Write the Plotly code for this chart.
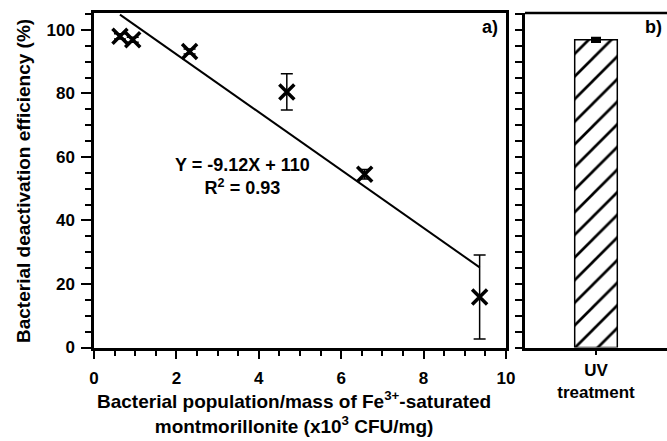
import plotly.graph_objects as go

# ---- data ----
pop_x = [0.63, 0.94, 2.32, 4.68, 6.57, 9.36]          # x10^3 CFU/mg
efficiency = [98.0, 96.9, 93.2, 80.5, 54.6, 15.9]      # %
eff_err = [0.8, 0.8, 0.8, 5.7, 1.5, 13.2]
fit_slope = -9.12
fit_intercept = 110.6
uv_category = ["UV<br>treatment"]
uv_value = [96.9]
uv_err = [0.5]
x_ticks = [0, 2, 4, 6, 8, 10]
y_ticks = [0, 20, 40, 60, 80, 100]
x_title = "Bacterial population/mass of Fe<sup>3+</sup>-saturated<br>montmorillonite (x10<sup>3</sup> CFU/mg)"
y_title = "Bacterial deactivation efficiency (%)"

FAM = "Liberation Sans, Arial, sans-serif"
TICKF = dict(family=FAM, size=17, color="black", weight="bold")
TITLEF = dict(family=FAM, size=19, color="black", weight="bold")
ANNF = dict(family=FAM, size=18, color="black", weight="bold")

fig = go.Figure()

# fit line
fx = [min(pop_x), max(pop_x)]
fy = [fit_intercept + fit_slope * v for v in fx]
fig.add_trace(go.Scatter(x=fx, y=fy, mode="lines", line=dict(color="black", width=2),
                         xaxis="x", yaxis="y", showlegend=False, hoverinfo="skip"))

# data points
fig.add_trace(go.Scatter(
    x=pop_x, y=efficiency, mode="markers",
    marker=dict(symbol="x-thin", size=15, line=dict(color="black", width=3.5), color="black"),
    error_y=dict(type="data", array=eff_err, color="black", thickness=1.5, width=6),
    xaxis="x", yaxis="y", showlegend=False))

# bar panel
fig.add_trace(go.Bar(
    x=[0], y=uv_value, width=0.3,
    marker=dict(color="white", line=dict(color="black", width=1.5),
                pattern=dict(shape="/", fgcolor="black", bgcolor="white", fgopacity=1,
                             fillmode="replace", size=16, solidity=0.17)),
    error_y=dict(type="data", array=uv_err, color="black", thickness=3, width=5),
    xaxis="x2", yaxis="y2", showlegend=False))

ydom = [93.5 / 441, 428 / 441]
yrange = [0, 105.35]

fig.update_layout(
    width=667, height=441,
    margin=dict(l=0, r=0, t=0, b=0),
    paper_bgcolor="white", plot_bgcolor="white",
    font=TICKF,
    xaxis=dict(domain=[94 / 667, 506 / 667], range=[0, 10],
               tickvals=x_ticks, ticktext=[f"<b>{v}</b>" for v in x_ticks],
               ticks="outside", ticklen=9, tickwidth=1.5, tickcolor="black",
               minor=dict(dtick=0.5, ticks="outside", ticklen=6, tickwidth=1.5, tickcolor="black"),
               showline=True, linecolor="black", linewidth=2.5, mirror=True,
               showgrid=False, zeroline=False, tickfont=TICKF, ticklabelstandoff=4,
               automargin=False, anchor="y"),
    yaxis=dict(domain=ydom, range=yrange,
               tickvals=y_ticks, ticktext=[f"<b>{v}</b>" for v in y_ticks],
               ticks="outside", ticklen=10, tickwidth=1.5, tickcolor="black",
               minor=dict(dtick=5, ticks="outside", ticklen=6, tickwidth=1.5, tickcolor="black"),
               showline=True, linecolor="black", linewidth=2.5, mirror=True,
               showgrid=False, zeroline=False, tickfont=TICKF, ticklabelstandoff=3,
               automargin=False, anchor="x"),
    xaxis2=dict(domain=[525 / 667, 1.0], range=[-0.5, 0.5], tickvals=[0], ticktext=uv_category,
                ticks="outside", ticklen=5, tickwidth=1.5, tickcolor="black",
                showline=True, linecolor="black", linewidth=2.5, mirror=False,
                showgrid=False, zeroline=False, tickfont=TICKF,
                automargin=False, anchor="y2"),
    yaxis2=dict(domain=ydom, range=yrange, tickvals=list(range(0, 106, 5)), showticklabels=False,
                ticks="outside", ticklen=7, tickwidth=1.5, tickcolor="black",
                showline=True, linecolor="black", linewidth=2.5, mirror=False,
                showgrid=False, zeroline=False, automargin=False, anchor="x2"),
    annotations=[
        dict(text=x_title, x=294 / 667, y=1 - 386 / 441, xref="paper", yref="paper",
             xanchor="center", yanchor="top", showarrow=False, font=TITLEF, align="center"),
        dict(text=y_title, x=24 / 667, y=1 - 181 / 441, xref="paper", yref="paper",
             xanchor="center", yanchor="middle", textangle=-90, showarrow=False, font=TITLEF),
        dict(text="Y = -9.12X + 110<br>R<sup>2</sup> = 0.93", x=3.6, y=54, xref="x", yref="y",
             showarrow=False, font=ANNF, align="center"),
        dict(text="a)", x=9.85, y=101, xref="x", yref="y", xanchor="right", showarrow=False, font=ANNF),
        dict(text="b)", x=0.48, y=101, xref="x2", yref="y2", xanchor="right", showarrow=False, font=ANNF),
    ],
)

# top border for panel b
fig.add_shape(type="line", xref="x2 domain", yref="y2 domain", x0=0, x1=1, y0=1, y1=1,
              line=dict(color="black", width=2.5))

fig.write_html("out.html", config={"displayModeBar": False},
               post_script="document.body.style.margin='0px';")
